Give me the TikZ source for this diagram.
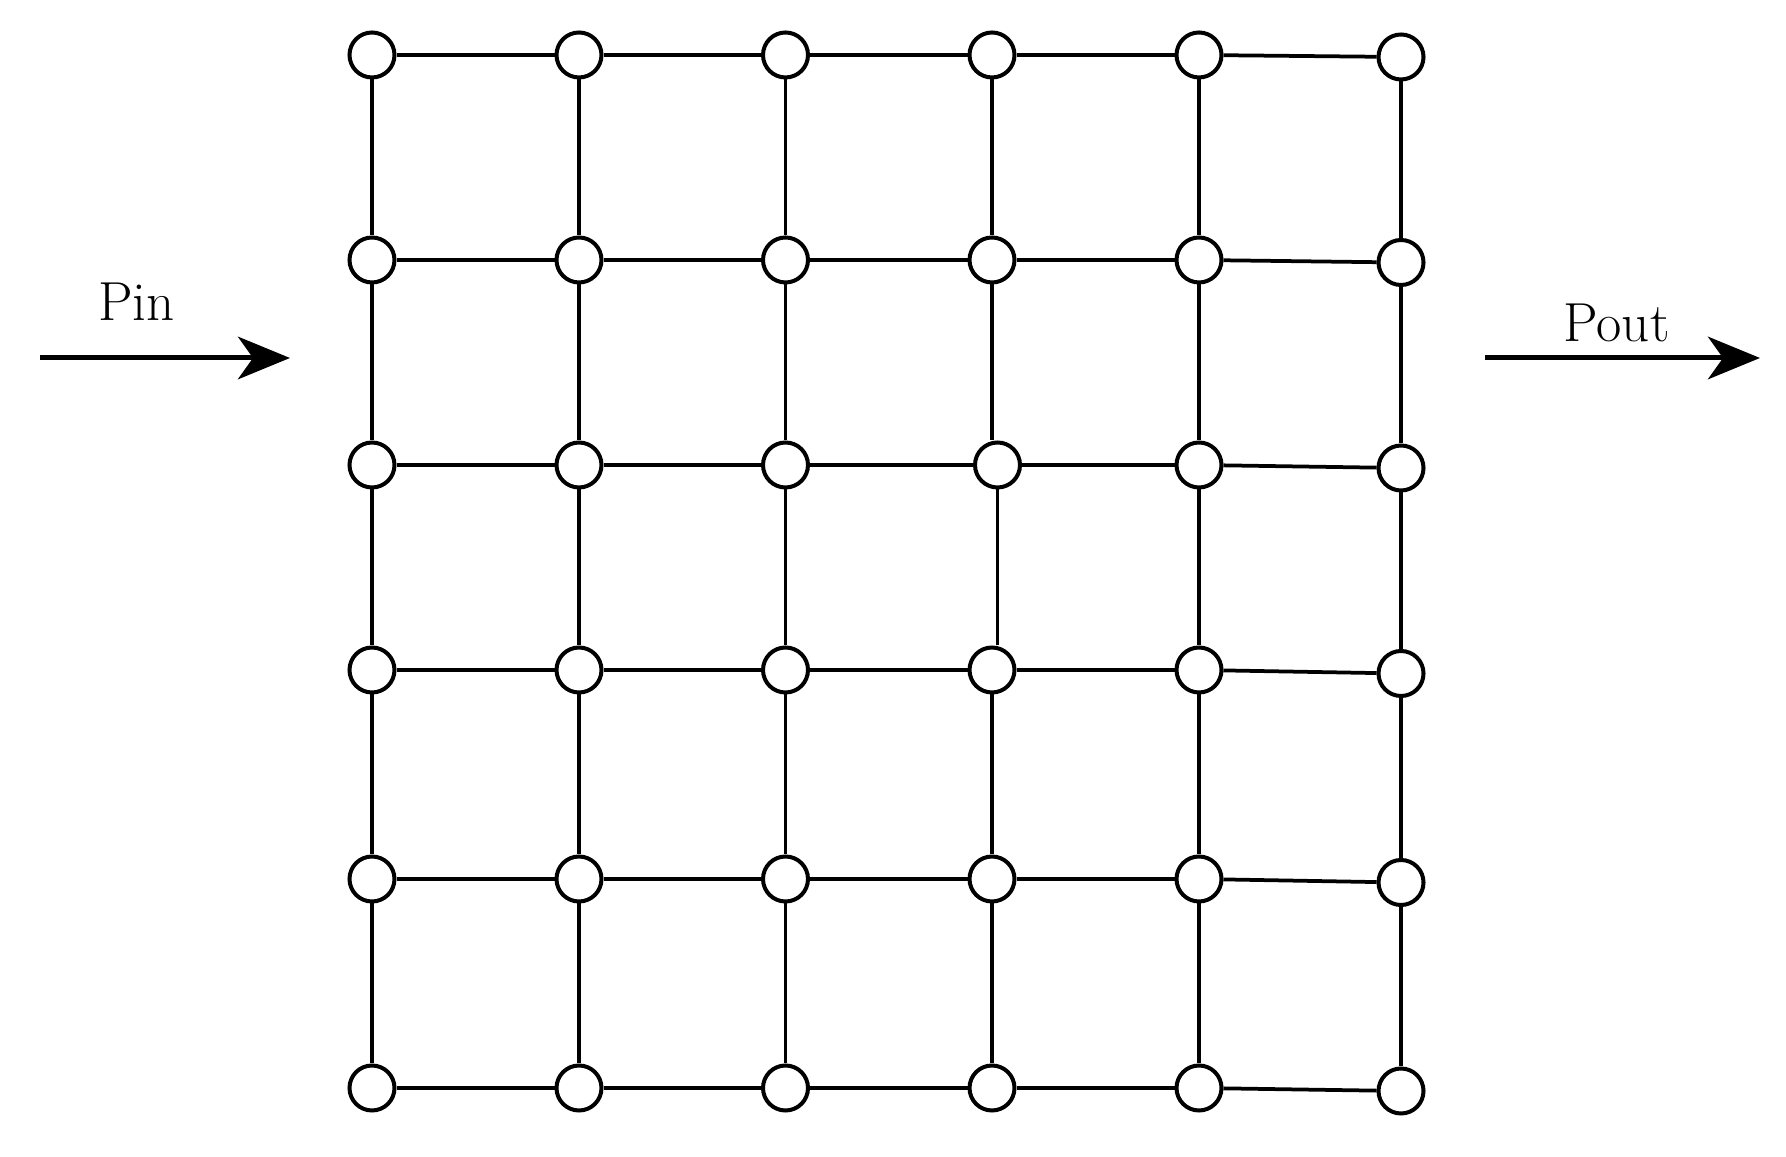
\documentclass[tikz,border=0pt]{standalone}
\usetikzlibrary{arrows.meta}
\tikzset{
  dot/.style={circle,draw=black,fill=white,line width=1.6pt,minimum size=18pt,inner sep=0pt},
  wire/.style={draw=black,line width=1.5pt},
  flow/.style={draw=black,line width=2pt,-{Stealth[length=20.8pt,width=17pt,inset=6pt]}},
  lbl/.style={anchor=base,inner sep=0pt,outer sep=0pt,font=\fontsize{22}{26}\selectfont}
}
\begin{document}
\begin{tikzpicture}[x=1pt,y=1pt]
\path[use as bounding box,fill=white] (0,0) rectangle (714.40,462.80);

% grid nodes, row 1 at the top
\node[dot] (n11) at (148.80,440.80) {};
\node[dot] (n12) at (231.60,440.80) {};
\node[dot] (n13) at (314.20,440.80) {};
\node[dot] (n14) at (396.80,440.80) {};
\node[dot] (n15) at (479.60,440.80) {};
\node[dot] (n16) at (560.40,440.00) {};

\node[dot] (n21) at (148.80,358.80) {};
\node[dot] (n22) at (231.60,358.80) {};
\node[dot] (n23) at (314.20,358.80) {};
\node[dot] (n24) at (396.80,358.80) {};
\node[dot] (n25) at (479.60,358.80) {};
\node[dot] (n26) at (560.40,357.80) {};

\node[dot] (n31) at (148.80,276.80) {};
\node[dot] (n32) at (231.60,276.80) {};
\node[dot] (n33) at (314.20,276.80) {};
\node[dot] (n34) at (399.00,276.80) {};
\node[dot] (n35) at (479.60,276.80) {};
\node[dot] (n36) at (560.40,275.60) {};

\node[dot] (n41) at (148.80,194.80) {};
\node[dot] (n42) at (231.60,194.80) {};
\node[dot] (n43) at (314.20,194.80) {};
\node[dot] (n44) at (396.80,194.80) {};
\node[dot] (n45) at (479.60,194.80) {};
\node[dot] (n46) at (560.40,193.40) {};

\node[dot] (n51) at (148.80,111.20) {};
\node[dot] (n52) at (231.60,111.20) {};
\node[dot] (n53) at (314.20,111.20) {};
\node[dot] (n54) at (396.80,111.20) {};
\node[dot] (n55) at (479.60,111.20) {};
\node[dot] (n56) at (560.40,109.80) {};

\node[dot] (n61) at (148.80, 27.60) {};
\node[dot] (n62) at (231.60, 27.60) {};
\node[dot] (n63) at (314.20, 27.60) {};
\node[dot] (n64) at (396.80, 27.60) {};
\node[dot] (n65) at (479.60, 27.60) {};
\node[dot] (n66) at (560.40, 26.40) {};

% links
\foreach \r in {1,...,6}
  \foreach \c [count=\d from 2] in {1,...,5}
    \path[wire] (n\r\c) -- (n\r\d);
\foreach \c in {1,...,6}
  \foreach \r [count=\s from 2] in {1,...,5}
    \path[wire] (n\r\c.south) -- (n\r\c.south |- n\s\c.north);

% input and output
\coordinate (pinA) at ( 16.00,319.60);
\coordinate (pinB) at (116.00,319.60);
\coordinate (poutA) at (594.00,319.60);
\coordinate (poutB) at (704.00,319.60);
\path[flow] (pinA) -- (pinB);
\path[flow] (poutA) -- (poutB);
\node[lbl] (pin) at ( 54.60,334.40) {Pin};
\node[lbl] (pout) at (646.60,326.00) {Pout};
\end{tikzpicture}
\end{document}
